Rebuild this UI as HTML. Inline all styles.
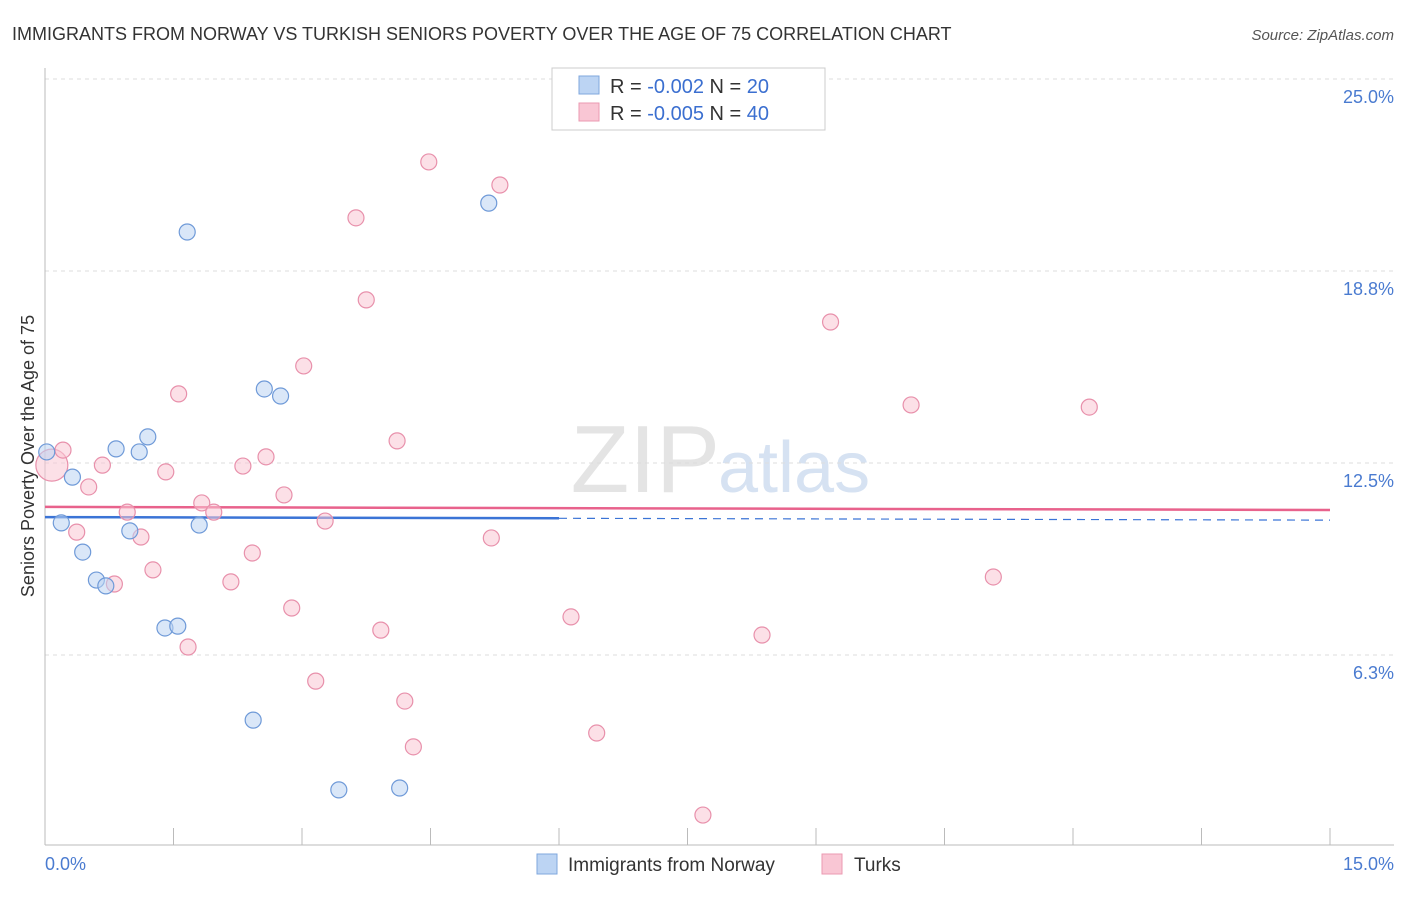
<!DOCTYPE html>
<html><head><meta charset="utf-8"><style>
body{margin:0;background:#fff;font-family:"Liberation Sans",sans-serif;}
svg text{font-family:"Liberation Sans",sans-serif;}
</style></head><body>
<svg id="chart" width="1406" height="892" xmlns="http://www.w3.org/2000/svg">
<text x="12" y="40" font-size="18" fill="#333">IMMIGRANTS FROM NORWAY VS TURKISH SENIORS POVERTY OVER THE AGE OF 75 CORRELATION CHART</text>
<text x="1394" y="40" font-size="15" fill="#555" text-anchor="end" font-style="italic">Source: ZipAtlas.com</text>
<text x="720" y="492" font-size="96" fill="#e4e4e4" text-anchor="end" font-family="Liberation Serif">ZIP</text>
<text x="718" y="492" font-size="72" fill="#d6e2f2">atlas</text>
<g id="grid"></g><g id="axes"></g><g id="trends"></g><g id="pts"></g>
<text transform="translate(34,456) rotate(-90)" font-size="18" fill="#333" text-anchor="middle">Seniors Poverty Over the Age of 75</text>
<text x="45" y="870" font-size="18" fill="#4a7bd0">0.0%</text>
<text x="1394" y="870" font-size="18" fill="#4a7bd0" text-anchor="end">15.0%</text>
<g>
<rect x="552" y="68" width="273" height="62" fill="#fff" stroke="#ccc"/>
<rect x="579" y="76" width="20" height="18" fill="#bcd4f3" stroke="#7fa7de"/>
<rect x="579" y="103" width="20" height="18" fill="#f9c6d4" stroke="#eb9ab2"/>
<text x="610" y="93" font-size="20" fill="#333">R = <tspan fill="#3b6fd0">-0.002</tspan>   N = <tspan fill="#3b6fd0">20</tspan></text>
<text x="610" y="120" font-size="20" fill="#333">R = <tspan fill="#3b6fd0">-0.005</tspan>   N = <tspan fill="#3b6fd0">40</tspan></text>
</g>
<g>
<rect x="537" y="854" width="20" height="20" fill="#bcd4f3" stroke="#7fa7de"/>
<text x="568" y="871" font-size="19" fill="#333">Immigrants from Norway</text>
<rect x="822" y="854" width="20" height="20" fill="#f9c6d4" stroke="#eb9ab2"/>
<text x="854" y="871" font-size="19" fill="#333">Turks</text>
</g>
</svg>
<script>
const yTicks=[6.25,12.5,18.75,25];
const yTickLabels=["6.3%","12.5%","18.8%","25.0%"];
const blueX=[0.02,0.32,0.19,0.44,0.60,0.71,0.83,1.10,1.20,0.99,1.40,1.55,1.66,1.80,2.43,2.56,2.75,3.43,4.14,5.18];
const blueY=[12.86,12.04,10.55,9.60,8.69,8.50,12.96,12.86,13.35,10.29,7.13,7.19,20.02,10.48,4.13,14.91,14.68,1.86,1.92,20.96];
const pinkX=[0.08,0.21,0.37,0.51,0.67,0.81,0.96,1.12,1.26,1.41,1.56,1.67,1.83,1.97,2.17,2.31,2.42,2.58,2.79,2.88,3.02,3.16,3.27,3.63,3.75,3.92,4.11,4.20,4.30,4.48,5.21,5.31,6.14,6.44,7.68,8.37,9.17,10.11,11.07,12.19];
const pinkY=[12.43,12.92,10.25,11.72,12.43,8.56,10.90,10.09,9.02,12.21,14.75,6.51,11.20,10.90,8.63,12.40,9.57,12.70,11.46,7.78,15.66,5.40,10.61,20.48,17.81,7.06,13.22,4.75,3.26,22.30,10.06,21.55,7.49,3.71,1.04,6.90,17.09,14.39,8.79,14.32];
const blueTrend=[10.74,10.64];
const pinkTrend=[11.07,10.97];
const X=v=>45+v/15*1285, Y=v=>847-v*30.72;
const NS="http://www.w3.org/2000/svg";
function mk(tag,attrs,parent){const e=document.createElementNS(NS,tag);for(const k in attrs)e.setAttribute(k,attrs[k]);document.getElementById(parent).appendChild(e);return e;}
yTicks.forEach((t,i)=>{
 const l=mk('line',{x1:45,x2:1394,y1:Y(t),y2:Y(t),stroke:'#ddd','stroke-dasharray':'4,4'},'grid');
 
 
 const tx=mk('text',{x:1394,y:Y(t)+24,'font-size':18,fill:'#4a7bd0','text-anchor':'end'},'grid');tx.textContent=yTickLabels[i];
 
 
});
const ax=mk('line',{x1:45,x2:1394,y1:845,y2:845,stroke:'#bbb'},'axes');


const ay=mk('line',{x1:45,x2:45,y1:68,y2:845,stroke:'#bbb'},'axes');


for(let i=1;i<=10;i++){const t=mk('line',{x1:X(i*1.5),x2:X(i*1.5),y1:828,y2:845,stroke:'#bbb'},'axes');
 
 }
function pts(xs,ys,fill,stroke,name){xs.forEach((x,i)=>{const c=mk('circle',{cx:X(x),cy:Y(ys[i]),r:(name==='turks-point'&&i===0)?16:8,fill:fill,'fill-opacity':0.55,stroke:stroke,'stroke-width':1.2},'pts');
 
 });}
pts(pinkX,pinkY,'#f9c6d4','#e890ab','turks-point');
pts(blueX,blueY,'#bcd4f3','#6f9ad8','norway-point');
const bs=mk('line',{x1:X(0),y1:Y(blueTrend[0]),x2:X(6),y2:Y(blueTrend[0]+(blueTrend[1]-blueTrend[0])*6/15),stroke:'#3b74d6','stroke-width':2.5},'trends');


const bd=mk('line',{x1:X(6),y1:Y(blueTrend[0]+(blueTrend[1]-blueTrend[0])*6/15),x2:X(15),y2:Y(blueTrend[1]),stroke:'#3b74d6','stroke-width':1.2,'stroke-dasharray':'8,6'},'trends');


const pt=mk('line',{x1:X(0),y1:Y(pinkTrend[0]),x2:X(15),y2:Y(pinkTrend[1]),stroke:'#e8628c','stroke-width':2.5},'trends');


</script>
</body></html>
